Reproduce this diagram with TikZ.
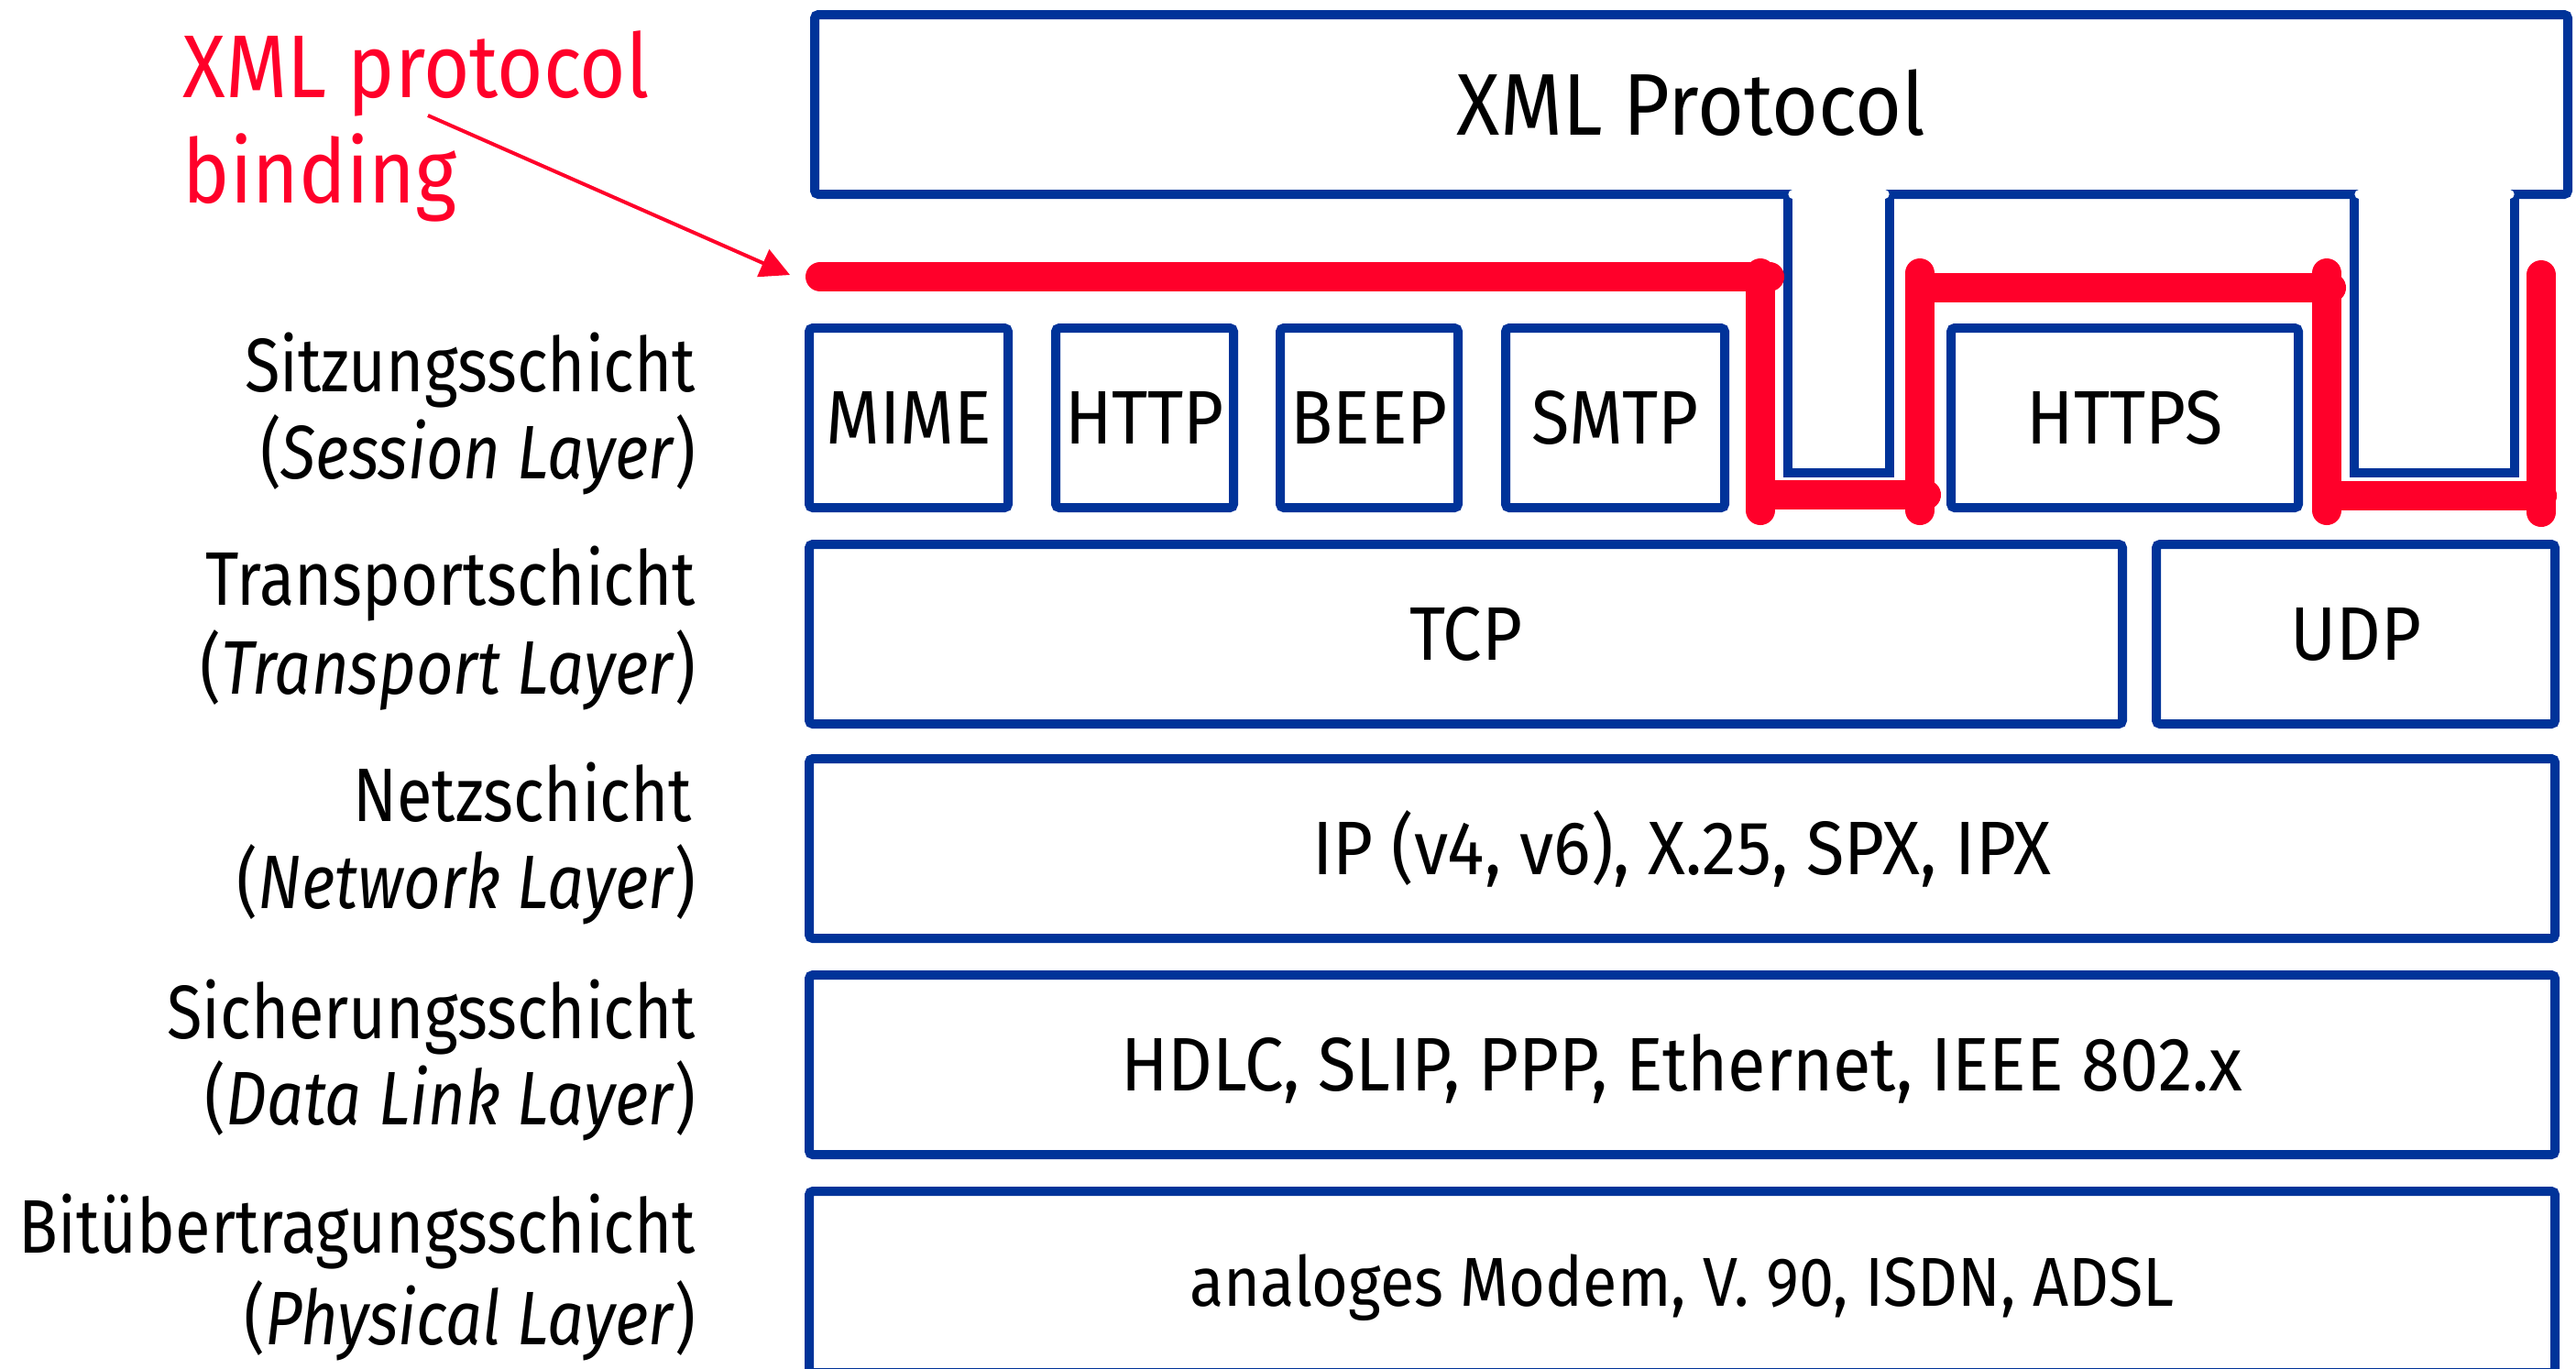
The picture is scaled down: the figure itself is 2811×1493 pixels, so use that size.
\documentclass[tikz,border=0pt]{standalone}
\usepackage{fontspec}
\setmainfont{Fira Sans}[FakeStretch=0.85]
\newfontfamily\boxfont{Fira Sans}[FakeStretch=0.915]
\newfontfamily\smallboxfont{Fira Sans}[FakeStretch=0.905]
\newfontfamily\redfont{Fira Sans}[FakeStretch=0.89]
\usetikzlibrary{arrows.meta}
\definecolor{lblue}{RGB}{0,51,153}
\definecolor{lred}{RGB}{255,0,42}
\newcommand\lbox[6]{\node[box, minimum width={(#3-#1)*0.25pt}, minimum height={(#4-#2)*0.25pt}, #6] (#5) at ({(#1+#3)/2},{(#2+#4)/2})}
\begin{document}
\begin{tikzpicture}[x=0.25pt,y=-0.25pt,
 box/.style={draw=lblue, line width=2.5pt, fill=white, rounded corners=1pt, inner sep=0pt,
   font=\boxfont\fontsize{20.7}{24}\selectfont, text height=14.25pt, text depth=0pt},
 big/.style={font=\boxfont\fontsize{23.9}{28}\selectfont, text height=16.5pt},
 small/.style={font=\smallboxfont\fontsize{18.9}{22}\selectfont, text height=13pt},
 lbl/.style={font=\fontsize{20.7}{24}\selectfont, inner sep=0pt, anchor=base east},
 redlbl/.style={font=\redfont\fontsize{24.3}{28}\selectfont, inner sep=0pt, anchor=base west, text=lred},
 redline/.style={draw=lred, line width=8pt, line cap=round},
 stem/.style={draw=lblue, line width=2.4pt, fill=white, line cap=round},
 cover/.style={draw=white, line width=2.3pt, line cap=round},
 pointer/.style={draw=lred, line width=1pt, -{Triangle[length=8pt,width=8pt]}}
]
\useasboundingbox (0,0) rectangle (2811,1493);

% XML protocol box
\lbox{889}{16}{2802}{212}{xml}{big} {XML Protocol};

% stems
\draw[stem] (1951,212) -- (1951,516) -- (2062,516) -- (2062,212);
\draw[cover] (1956,212) -- (2057,212);
\draw[stem] (2569,212) -- (2569,516) -- (2744,516) -- (2744,212);
\draw[cover] (2574,212) -- (2739,212);

% session layer
\lbox{883}{358}{1100}{554}{mime}{} {MIME};
\lbox{1152}{358}{1346}{554}{http}{} {HTTP};
\lbox{1397}{358}{1591}{554}{beep}{} {BEEP};
\lbox{1643}{358}{1882}{554}{smtp}{} {SMTP};
\lbox{2129}{358}{2508}{554}{https}{} {HTTPS};

% transport
\lbox{883}{594}{2316}{790}{tcp}{} {TCP};
\lbox{2353}{594}{2788}{790}{udp}{} {UDP};

% network
\lbox{883}{828}{2788}{1024}{ip}{} {IP (v4, v6), X.25, SPX, IPX};
% data link
\lbox{883}{1064}{2788}{1260}{dl}{} {HDLC, SLIP, PPP, Ethernet, IEEE 802.x};
% physical
\lbox{883}{1300}{2788}{1498}{ph}{small} {analoges Modem, V. 90, ISDN, ADSL};

% red binding lines
\draw[redline] (895,302) -- (1931,302);
\draw[redline] (1921,298) -- (1921,557);
\draw[redline] (1921,540) -- (2102,540);
\draw[redline] (2095,298) -- (2095,557);
\draw[redline] (2095,314) -- (2544,314);
\draw[redline] (2539,298) -- (2539,557);
\draw[redline] (2539,541) -- (2774,541);
\draw[redline] (2773,300) -- (2773,559);

% red label and pointer
\node[redlbl] (rl1) at (199,106) {XML protocol};
\node[redlbl] (rl2) at (199,221) {binding};
\coordinate (as) at (467,126);
\coordinate (ae) at (862,300);
\draw[pointer] (as) -- (ae);

% layer labels
\node[lbl] (s1) at (760,427) {Sitzungsschicht};
\node[lbl] (s2) at (760,522) {(\textit{Session Layer})};
\node[lbl] (t1) at (760,660) {Transportschicht};
\node[lbl] (t2) at (760,757) {(\textit{Transport Layer})};
\node[lbl] (n1) at (756,896) {Netzschicht};
\node[lbl] (n2) at (760,991) {(\textit{Network Layer})};
\node[lbl] (d1) at (760,1133) {Sicherungsschicht};
\node[lbl] (d2) at (760,1227) {(\textit{Data Link Layer})};
\node[lbl] (p1) at (760,1367) {Bitübertragungsschicht};
\node[lbl] (p2) at (760,1467) {(\textit{Physical Layer})};
\end{tikzpicture}
\end{document}
